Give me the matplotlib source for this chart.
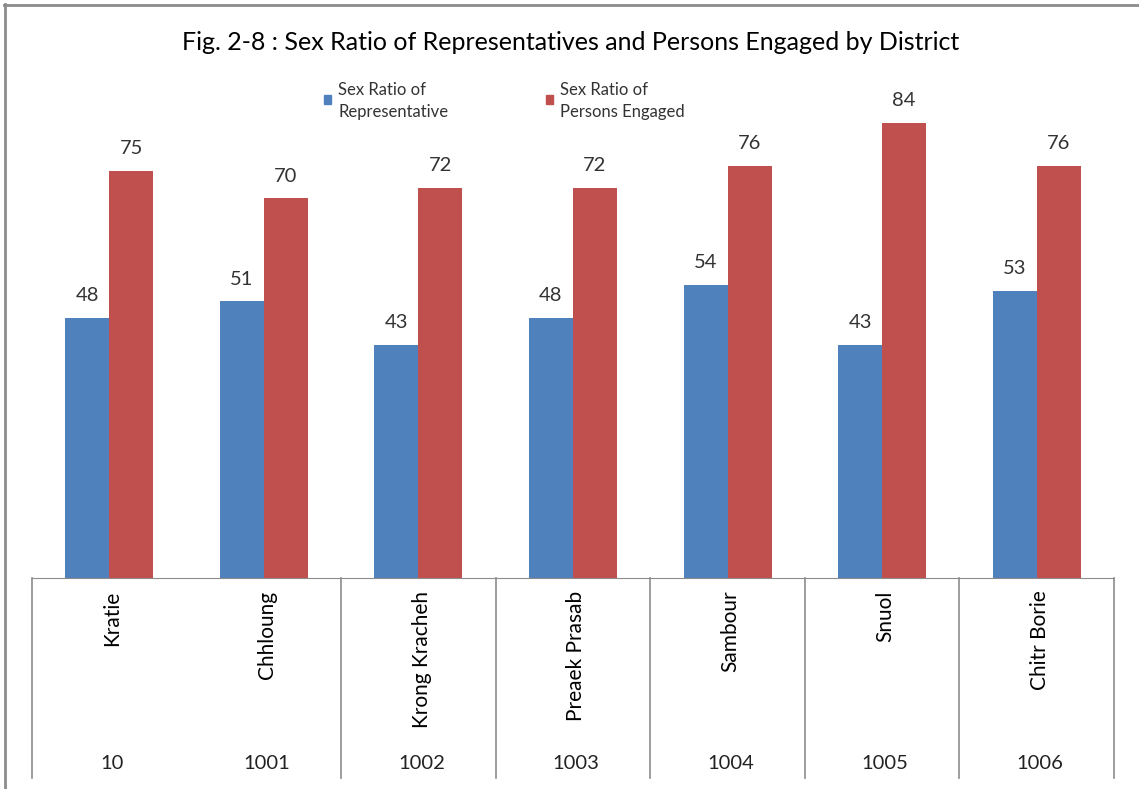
import matplotlib.pyplot as plt
import numpy as np
from matplotlib.patches import Rectangle
from matplotlib.lines import Line2D

plt.rcParams['font.family'] = ['Lato', 'DejaVu Sans']

districts = ["Kratie", "Chhloung", "Krong Kracheh", "Preaek Prasab", "Sambour", "Snuol", "Chitr Borie"]
codes = ["10", "1001", "1002", "1003", "1004", "1005", "1006"]
representative = [48, 51, 43, 48, 54, 43, 53]
persons_engaged = [75, 70, 72, 72, 76, 84, 76]
series_names = ["Sex Ratio of\nRepresentative", "Sex Ratio of\nPersons Engaged"]
# groups in the table below the axis (separators between groups)
group_edges = [-0.5, 1.5, 2.5, 3.5, 4.5, 5.5, 6.5]

BLUE = "#4F81BD"
RED = "#C0504D"
GRID = "#8C8C8C"

def main():
    fig = plt.figure(figsize=(11.39, 7.89), dpi=100)
    ax = fig.add_axes([32/1139, (789-578)/789, (1114-32)/1139, 488/789])

    x = np.arange(len(districts))
    w = 0.285
    b1 = ax.bar(x - w/2, representative, w, color=BLUE)
    b2 = ax.bar(x + w/2, persons_engaged, w, color=RED)
    for bars, vals in ((b1, representative), (b2, persons_engaged)):
        for r, v in zip(bars, vals):
            ax.annotate(str(v), (r.get_x() + r.get_width()/2, v), xytext=(0, 10),
                        textcoords="offset points", ha="center", va="bottom",
                        fontsize=14.5, color="#333333")

    ax.set_xlim(-0.5, 6.5)
    ax.set_ylim(0, 90)
    for s in ["top", "left", "right"]:
        ax.spines[s].set_visible(False)
    ax.spines["bottom"].set_color(GRID)
    ax.set_yticks([])
    ax.set_xticks([])

    # table under the axis
    tr = ax.get_xaxis_transform()
    for e in group_edges:
        ax.plot([e, e], [0, -0.41], transform=tr, color=GRID, lw=1.2, clip_on=False)
    for i, (name, code) in enumerate(zip(districts, codes)):
        ax.text(i + 0.02, -0.026, name, transform=tr, rotation=90, ha="center", va="top",
                fontsize=15, color="black")
        ax.text(i + 0.02, -0.381, code, transform=tr, ha="center", va="center",
                fontsize=14.5, color="#222222")

    fig.text(571/1139, 1 - 43/789, "Fig. 2-8 : Sex Ratio of Representatives and Persons Engaged by District",
             ha="center", va="center", fontsize=18, color="black")

    # legend
    for (lx, name, col) in ((324, series_names[0], BLUE), (546, series_names[1], RED)):
        fig.patches.append(Rectangle((lx/1139, 1 - 104/789), 7/1139, 9/789,
                                     transform=fig.transFigure, color=col))
        fig.text((lx + 14)/1139, 1 - 82/789, name, ha="left", va="top",
                 fontsize=12, color="#333333", linespacing=1.5)

    # outer frame: top and left edges only
    fig.lines.append(Line2D([4/1139, 1], [1 - 4.5/789] * 2, transform=fig.transFigure,
                            color="#8C8C8C", lw=2))
    fig.lines.append(Line2D([4.5/1139] * 2, [0, 1 - 4/789], transform=fig.transFigure,
                            color="#8C8C8C", lw=2))

    fig.savefig("out.png", dpi=100)

if __name__ == "__main__":
    main()
